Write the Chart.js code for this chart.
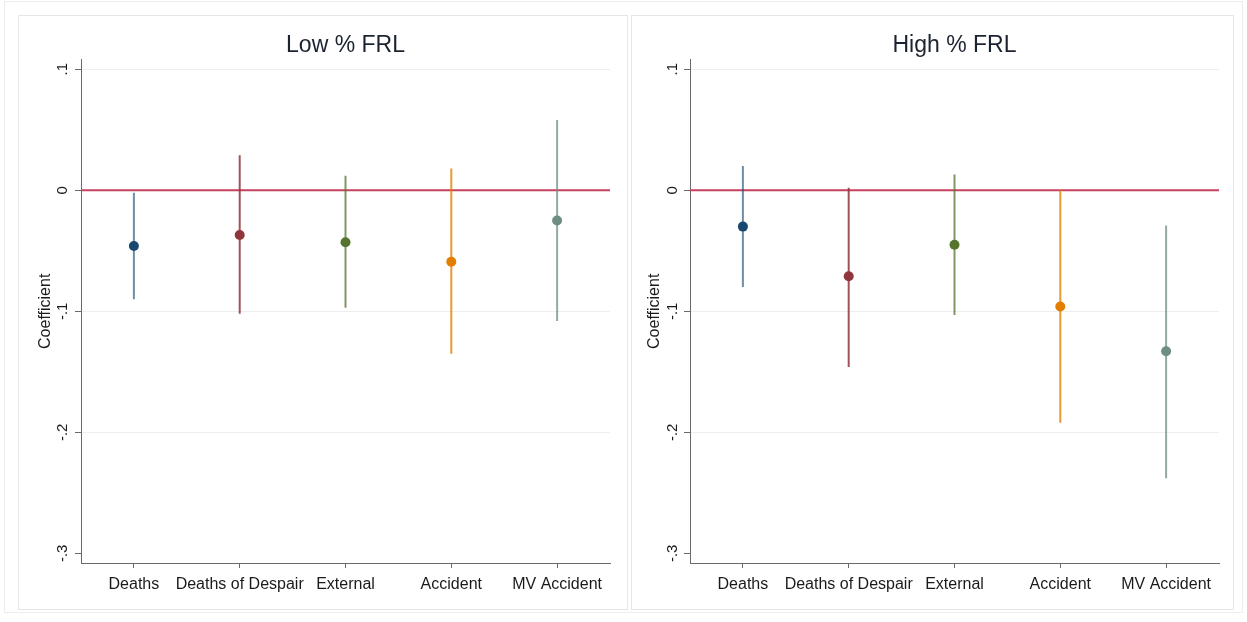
<!DOCTYPE html>
<html>
<head>
<meta charset="utf-8">
<script src="https://cdn.jsdelivr.net/npm/chart.js@4.4.1/dist/chart.umd.min.js"></script>
<style>
  html, body { margin: 0; padding: 0; background: #ffffff; }
  body { width: 1247px; height: 622px; position: relative; overflow: hidden; }
  .frame { position: absolute; left: 4px; top: 1px; width: 1239px; height: 612px; border: 1px solid #ededed; box-sizing: border-box; }
  .panel { position: absolute; top: 15px; height: 595px; border: 1px solid #e6e6e6; box-sizing: border-box; background: #ffffff; }
  canvas { position: absolute; top: 15px; }
</style>
</head>
<body>
<div class="frame"></div>
<div class="panel" style="left:18px;width:610px;"></div>
<div class="panel" style="left:631px;width:603px;"></div>
<canvas id="lowFrl" width="610" height="595" style="left:18px;width:610px;height:595px;"></canvas>
<canvas id="highFrl" width="603" height="595" style="left:631px;width:603px;height:595px;"></canvas>

<script>
// Outcome categories along the x axis
const categories = ['Deaths', 'Deaths of Despair', 'External', 'Accident', 'MV Accident'];

// Low % FRL: point estimates and 95% confidence bounds
const lowEst = [-0.046, -0.037, -0.043, -0.059, -0.025];
const lowLo  = [-0.090, -0.102, -0.097, -0.135, -0.108];
const lowHi  = [-0.002,  0.029,  0.012,  0.018,  0.058];

// High % FRL: point estimates and 95% confidence bounds
const highEst = [-0.030, -0.071, -0.045, -0.096, -0.133];
const highLo  = [-0.080, -0.146, -0.103, -0.192, -0.238];
const highHi  = [ 0.020,  0.002,  0.013,  0.000, -0.029];

// Y axis ticks and their labels
const yTickValues = [0.1, 0, -0.1, -0.2, -0.3];
const yTickLabels = ['.1', '0', '-.1', '-.2', '-.3'];

// Reference line value
const zeroLine = 0;

// Axis extents
const xMin = 0.5, xMax = 5.5;
const yMin = -0.308, yMax = 0.108;

// Series colours (Stata s2color palette)
const pointColors = ['#1a476f', '#90353b', '#55752f', '#e37e00', '#6e8e84'];
const ciColors = ['rgba(26,71,111,0.62)', 'rgba(144,53,59,0.85)', 'rgba(85,117,47,0.75)', 'rgba(227,126,0,0.8)', 'rgba(110,142,132,0.75)'];

const FONT = '"Liberation Sans", Arial, Helvetica, sans-serif';
const AXIS_COLOR = '#6a6a6a';

function buildPanel(canvasId, titleText, est, lo, hi, geom) {
  const datasets = [];

  datasets.push({
    type: 'line',
    data: [{ x: xMin, y: zeroLine }, { x: xMax, y: zeroLine }],
    borderColor: '#c8405f',
    borderWidth: 2,
    pointRadius: 0,
    order: 10
  });

  categories.forEach((c, i) => {
    datasets.push({
      type: 'line',
      label: c + ' CI',
      data: [{ x: i + 1, y: lo[i] }, { x: i + 1, y: hi[i] }],
      borderColor: ciColors[i],
      borderWidth: 2,
      pointRadius: 0,
      order: 5
    });
  });

  datasets.push({
    type: 'scatter',
    label: 'Coefficient',
    data: est.map((v, i) => ({ x: i + 1, y: v })),
    pointBackgroundColor: pointColors,
    pointBorderWidth: 0,
    pointRadius: 5,
    order: 1
  });

  return new Chart(document.getElementById(canvasId), {
    type: 'scatter',
    data: { datasets },
    options: {
      responsive: false,
      animation: false,
      events: [],
      layout: { padding: { left: 0, right: geom.padRight, top: 0, bottom: 0 } },
      plugins: {
        legend: { display: false },
        tooltip: { enabled: false },
        title: {
          display: true,
          text: titleText,
          fullSize: false,
          color: '#1b2230',
          font: { family: FONT, size: 23, weight: 'normal' },
          padding: { top: 17, bottom: 0 }
        }
      },
      scales: {
        x: {
          type: 'linear',
          min: xMin,
          max: xMax,
          afterBuildTicks: (s) => { s.ticks = categories.map((c, i) => ({ value: i + 1 })); },
          afterFit: (s) => { s.height = 47; },
          ticks: {
            autoSkip: false,
            maxRotation: 0,
            padding: 7,
            color: '#1a1a1a',
            font: { family: FONT, size: 16 },
            callback: (v, idx) => categories[idx]
          },
          grid: { drawOnChartArea: false, drawTicks: true, tickLength: 5, tickColor: AXIS_COLOR },
          border: { color: AXIS_COLOR, width: 1 }
        },
        y: {
          type: 'linear',
          min: yMin,
          max: yMax,
          afterBuildTicks: (s) => { s.ticks = yTickValues.map(v => ({ value: v })); },
          afterFit: (s) => { s.width = geom.axisWidth; },
          ticks: {
            minRotation: 90,
            maxRotation: 90,
            crossAlign: 'center',
            padding: geom.tickPad,
            color: '#1a1a1a',
            font: { family: FONT, size: 15 },
            callback: (v, idx) => yTickLabels[idx]
          },
          grid: {
            color: (ctx) => (ctx.index === yTickValues.length - 1 ? 'rgba(0,0,0,0)' : '#eeeeee'),
            lineWidth: 1,
            drawTicks: true,
            tickLength: 6,
            tickColor: AXIS_COLOR
          },
          border: { color: AXIS_COLOR, width: 1 },
          title: {
            display: true,
            text: 'Coefficient',
            color: '#1a1a1a',
            font: { family: FONT, size: 16 },
            padding: { top: geom.titlePad, bottom: 0 }
          }
        }
      }
    }
  });
}

buildPanel('lowFrl', 'Low % FRL', lowEst, lowLo, lowHi, { axisWidth: 63, padRight: 18, tickPad: 3, titlePad: 18 });
buildPanel('highFrl', 'High % FRL', highEst, highLo, highHi, { axisWidth: 59, padRight: 15, tickPad: 2, titlePad: 14 });
</script>
</body>
</html>
